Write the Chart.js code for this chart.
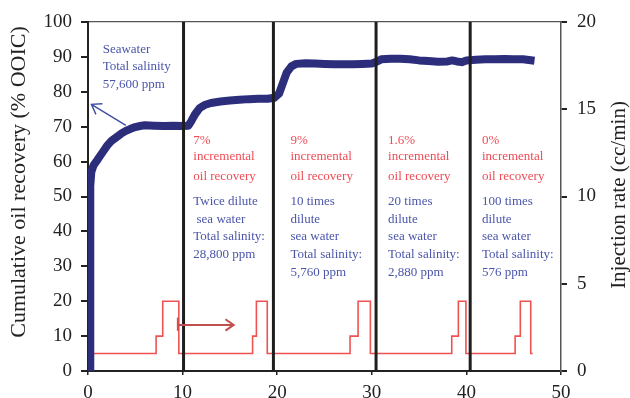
<!DOCTYPE html>
<html>
<head>
<meta charset="utf-8">
<script src="https://cdn.jsdelivr.net/npm/chart.js@4.4.1/dist/chart.umd.min.js"></script>
<style>
  html, body { margin: 0; padding: 0; background: #fff; }
</style>
</head>
<body>
<canvas id="grafico-recuperacao" width="630" height="398"></canvas>
<script>
// cumulative oil recovery (% OOIC) vs pore volume injected
const recoveryTime = [0.22, 0.22, 0.26, 0.35, 0.6, 1, 1.5, 2, 2.5, 3, 3.5, 4, 4.5, 5, 5.5, 6, 7, 8, 9, 10,
  10.6, 10.9, 11.3, 11.8, 12.4, 13, 14, 15, 16, 17, 18, 19, 19.7, 20.2, 20.6, 21, 21.5, 22, 23, 24,
  25, 26, 27, 28, 29, 30, 30.5, 31, 32, 33, 34, 35, 36, 37, 38, 38.5, 39, 39.5, 40, 41, 42, 43, 44, 45, 46, 47.2];
const recoveryPct = [0, 40, 53, 57, 59, 60.5, 62.5, 64.5, 66, 67, 68, 68.8, 69.4, 69.9, 70.2, 70.4, 70.3, 70.2, 70.3, 70.2,
  70.3, 71.5, 73.5, 75.3, 76.3, 76.8, 77.2, 77.5, 77.7, 77.9, 78, 78, 78.3, 79.5, 82.5, 85.5, 87.3, 88, 88.2, 88.1,
  88, 87.9, 87.9, 87.9, 88, 88.1, 88.6, 89.3, 89.5, 89.5, 89.3, 89, 88.8, 88.6, 88.7, 89.0, 88.7, 88.5, 89, 89.2, 89.3, 89.3, 89.4, 89.3, 89.3, 88.9];

// injection rate (cc/min), value holds until the next change
const rateTime  = [0, 7.2, 7.9, 9.6, 17.4, 17.8, 18.95, 27.7, 28.55, 29.85, 38.45, 39.15, 39.95, 45.15, 45.7, 46.8, 47.0];
const rateValue = [1, 2, 4, 1, 2, 4, 1, 2, 4, 1, 2, 4, 1, 2, 4, 1, 1];

// brine switch points
const stageBounds = [10.1, 19.6, 30.45, 40.4];

// texts for each stage
const stageLeft = [1.55, 11.13, 21.4, 31.72, 41.65];
const incrementText = ['7%', '9%', '1.6%', '0%'];
const brineText = [
  ['Seawater', 'Total salinity', '57,600 ppm'],
  ['Twice dilute', ' sea water', 'Total salinity:', '28,800 ppm'],
  ['10 times', 'dilute', 'sea water', 'Total salinity:', '5,760 ppm'],
  ['20 times', 'dilute', 'sea water', 'Total salinity:', '2,880 ppm'],
  ['100 times', 'dilute', 'sea water', 'Total salinity:', '576 ppm']
];

const serif = "'Liberation Serif', 'Times New Roman', serif";
Chart.defaults.font.family = serif;
Chart.defaults.color = '#222';

function pontos(xs, ys) {
  return xs.map((x, i) => ({ x: x, y: ys[i] }));
}

function setaAberta(ctx, x0, y0, x1, y1, tam) {
  const ang = Math.atan2(y1 - y0, x1 - x0);
  ctx.beginPath();
  ctx.moveTo(x0, y0);
  ctx.lineTo(x1, y1);
  ctx.moveTo(x1 - tam * Math.cos(ang - 0.6), y1 - tam * Math.sin(ang - 0.6));
  ctx.lineTo(x1, y1);
  ctx.lineTo(x1 - tam * Math.cos(ang + 0.6), y1 - tam * Math.sin(ang + 0.6));
  ctx.stroke();
}

const notasPlugin = {
  id: 'notas',
  afterDatasetsDraw(chart) {
    const ctx = chart.ctx;
    const px = v => chart.scales.x.getPixelForValue(v);
    const py = v => chart.scales.y.getPixelForValue(v);
    ctx.save();
    ctx.font = '13px ' + serif;
    ctx.textBaseline = 'middle';
    ctx.textAlign = 'left';
    const gap = 17.7;

    // blue brine description
    ctx.fillStyle = '#4a55aa';
    brineText.forEach((linhas, i) => {
      const y0 = i === 0 ? py(92.2) : py(48.6);
      linhas.forEach((t, j) => ctx.fillText(t, px(stageLeft[i]), y0 + j * gap));
    });

    // red incremental recovery
    ctx.fillStyle = '#ee4b55';
    incrementText.forEach((t, i) => {
      const x = px(stageLeft[i + 1]);
      ctx.fillText(t, x, py(66.1));
      ctx.fillText('incremental', x, py(61.3));
      ctx.fillText('oil recovery', x, py(55.8));
    });

    // arrow to left axis
    ctx.strokeStyle = '#3d4ea6';
    ctx.lineWidth = 1.4;
    setaAberta(ctx, px(4.0), py(70.4), px(0.36), py(76.4), 11);

    // arrow to right axis
    ctx.strokeStyle = '#e04848';
    ctx.lineWidth = 2;
    ctx.beginPath();
    ctx.moveTo(px(9.5), py(15.3));
    ctx.lineTo(px(9.5), py(11.5));
    ctx.stroke();
    ctx.strokeStyle = '#c0504d';
    setaAberta(ctx, px(9.5), py(13.2), px(15.4), py(13.2), 10);

    // axis titles
    ctx.fillStyle = '#222';
    ctx.font = '22px ' + serif;
    ctx.textAlign = 'center';
    ctx.save();
    ctx.translate(19, 182);
    ctx.rotate(-Math.PI / 2);
    ctx.fillText('Cumulative oil recovery (% OOIC)', 0, 0);
    ctx.restore();
    ctx.font = '21px ' + serif;
    ctx.translate(619, 195);
    ctx.rotate(-Math.PI / 2);
    ctx.fillText('Injection rate (cc/min)', 0, 0);
    ctx.restore();
  }
};

const eixoTicks = { font: { size: 19 }, color: '#222' };

new Chart(document.getElementById('grafico-recuperacao').getContext('2d'), {
  type: 'line',
  data: {
    datasets: [
      ...stageBounds.map(b => ({
        data: [{ x: b, y: 0 }, { x: b, y: 100 }],
        borderColor: '#1e1e1e',
        borderWidth: 3,
        pointRadius: 0,
        yAxisID: 'y'
      })),
      {
        label: 'Cumulative oil recovery',
        data: pontos(recoveryTime, recoveryPct),
        borderColor: '#2c2e7c',
        borderWidth: 8,
        borderJoinStyle: 'round',
        borderCapStyle: 'butt',
        pointRadius: 0,
        tension: 0,
        yAxisID: 'y'
      },
      {
        label: 'Injection rate',
        data: pontos(rateTime, rateValue),
        borderColor: '#f05252',
        borderWidth: 1.6,
        pointRadius: 0,
        stepped: 'before',
        yAxisID: 'y2'
      }
    ]
  },
  options: {
    responsive: false,
    animation: false,
    layout: { padding: { top: 22, left: 0, right: 0, bottom: 0 } },
    plugins: { legend: { display: false }, tooltip: { enabled: false } },
    scales: {
      x: {
        type: 'linear', min: 0, max: 50,
        ticks: Object.assign({ stepSize: 10, padding: 7 }, eixoTicks),
        grid: { drawOnChartArea: false, tickLength: 4, color: '#222', lineWidth: 1.5 },
        border: { color: '#222', width: 2 },
        afterFit: s => { s.height = 27; }
      },
      x2: {
        type: 'linear', min: 0, max: 50, position: 'top',
        ticks: { display: false },
        grid: { display: false },
        border: { color: '#555', width: 1.2 },
        afterFit: s => { s.height = 0; }
      },
      y: {
        position: 'left', min: 0, max: 100,
        ticks: Object.assign({ stepSize: 10, padding: 9 }, eixoTicks),
        grid: { drawOnChartArea: false, tickLength: 7, color: '#222', lineWidth: 2 },
        border: { color: '#222', width: 2 },
        afterFit: s => { s.width = 88; }
      },
      y2: {
        position: 'right', min: 0, max: 20,
        ticks: Object.assign({ stepSize: 5, padding: 10 }, eixoTicks),
        grid: { drawOnChartArea: false, tickLength: 6, color: '#222', lineWidth: 2 },
        border: { color: '#555', width: 1.5 },
        afterFit: s => { s.width = 69; }
      }
    }
  },
  plugins: [notasPlugin]
});
</script>
</body>
</html>
